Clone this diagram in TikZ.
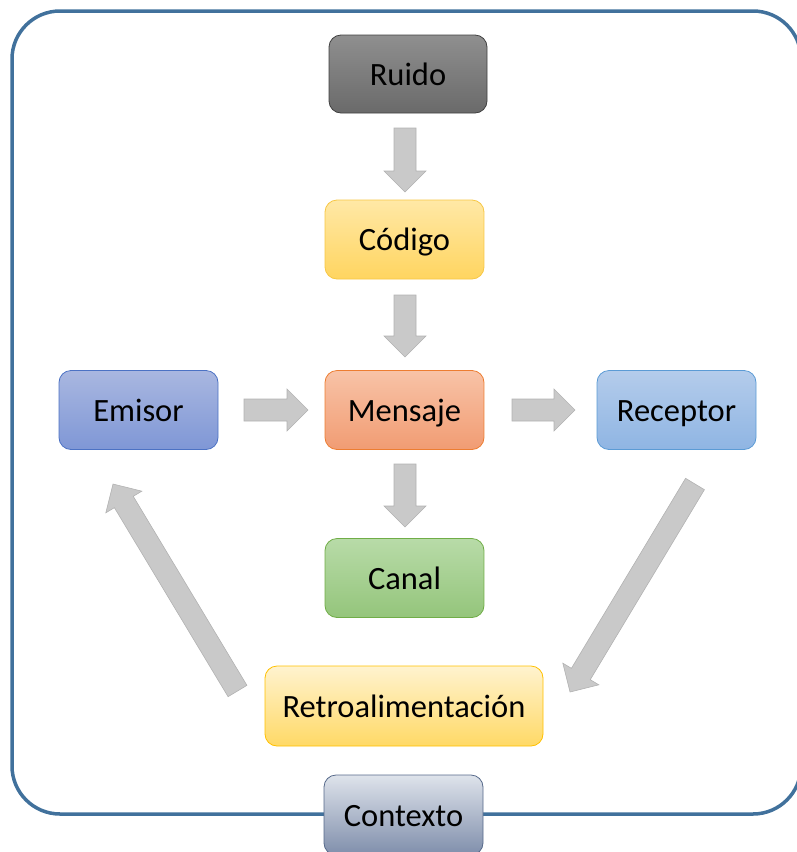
\documentclass[tikz,border=0pt]{standalone}
\usepackage{fontspec}
\setmainfont{Carlito}
\usetikzlibrary{calc}
\definecolor{framec}{HTML}{41719C}
\definecolor{arrfill}{HTML}{C9C9C9}
\definecolor{arrdraw}{HTML}{B2B2B2}
\definecolor{ruidoT}{HTML}{8F8F8F}\definecolor{ruidoB}{HTML}{6A6A6A}\definecolor{ruidoD}{HTML}{404040}
\definecolor{codT}{HTML}{FFE8A6}\definecolor{codB}{HTML}{FFD560}\definecolor{codD}{HTML}{F7C744}
\definecolor{emiT}{HTML}{A9B7E0}\definecolor{emiB}{HTML}{7F97D6}\definecolor{emiD}{HTML}{4C72C4}
\definecolor{menT}{HTML}{F8C3A7}\definecolor{menB}{HTML}{F19C73}\definecolor{menD}{HTML}{ED7D31}
\definecolor{recT}{HTML}{B4CCEB}\definecolor{recB}{HTML}{8FB5E3}\definecolor{recD}{HTML}{5B9BD5}
\definecolor{canT}{HTML}{B8DBA8}\definecolor{canB}{HTML}{94C57B}\definecolor{canD}{HTML}{70AD47}
\definecolor{retT}{HTML}{FFF3CF}\definecolor{retB}{HTML}{FFD966}\definecolor{retD}{HTML}{FFC000}
\definecolor{conT}{HTML}{DEE3EB}\definecolor{conB}{HTML}{7F8EAB}\definecolor{conD}{HTML}{56698A}
\tikzset{
  box/.style={rounded corners=12pt, minimum width=159pt, minimum height=79pt,
    inner sep=0pt, line width=0.8pt, font=\fontsize{32.5}{36}\selectfont,
    text depth=0pt, text height=22pt},
  blockarrow/.style={fill=arrfill, draw=arrdraw, line width=0.6pt, line join=miter},
}
\newcommand\blockarr[2]{%
  \path[blockarrow] let \p1=($(#2)-(#1)$), \n1={atan2(\y1,\x1)},
    \n2={veclen(\x1,\y1)-21} in
    ($(#1)+(\n1+90:11pt)$) --
    ($(#1)+(\n1:\n2)+(\n1+90:11pt)$) --
    ($(#1)+(\n1:\n2)+(\n1+90:21pt)$) --
    (#2) --
    ($(#1)+(\n1:\n2)+(\n1-90:21pt)$) --
    ($(#1)+(\n1:\n2)+(\n1-90:11pt)$) --
    ($(#1)+(\n1-90:11pt)$) -- cycle;}
\begin{document}
\begin{tikzpicture}[x=1pt,y=-1pt]
\useasboundingbox (0,0) rectangle (797,852);
% frame
\draw[framec, line width=3.5pt, rounded corners=48pt] (12,11) rectangle (801,814);
% boxes
\node[box, top color=ruidoT, bottom color=ruidoB, draw=ruidoD,
  minimum width=158pt, minimum height=78pt] (ruido) at (408,74) {Ruido};
\node[box, top color=codT, bottom color=codB, draw=codD] (codigo) at (404.5,239.5) {Código};
\node[box, top color=emiT, bottom color=emiB, draw=emiD] (emisor) at (138.5,410) {Emisor};
\node[box, top color=menT, bottom color=menB, draw=menD] (mensaje) at (404.5,410) {Mensaje};
\node[box, top color=recT, bottom color=recB, draw=recD] (receptor) at (676.5,410) {Receptor};
\node[box, top color=canT, bottom color=canB, draw=canD] (canal) at (404.5,578) {Canal};
\node[box, top color=retT, bottom color=retB, draw=retD,
  minimum width=278pt, minimum height=80pt] (retro) at (404,706) {Retroalimentación};
\node[box, top color=conT, bottom color=conB, draw=conD,
  minimum height=80pt] (contexto) at (403.5,815) {Contexto};
% arrow end points
\coordinate (a1s) at (405,128); \coordinate (a1e) at (405,192);
\coordinate (a2s) at (405,295); \coordinate (a2e) at (405,357);
\coordinate (a3s) at (405,464); \coordinate (a3e) at (405,527);
\coordinate (a4s) at (244,410); \coordinate (a4e) at (308,410);
\coordinate (a5s) at (512,410); \coordinate (a5e) at (575,410);
\coordinate (a6s) at (695,484); \coordinate (a6e) at (570,692);
\coordinate (a7s) at (237.5,691); \coordinate (a7e) at (113,484);
\blockarr{a1s}{a1e}
\blockarr{a2s}{a2e}
\blockarr{a3s}{a3e}
\blockarr{a4s}{a4e}
\blockarr{a5s}{a5e}
\blockarr{a6s}{a6e}
\blockarr{a7s}{a7e}
\end{tikzpicture}
\end{document}
